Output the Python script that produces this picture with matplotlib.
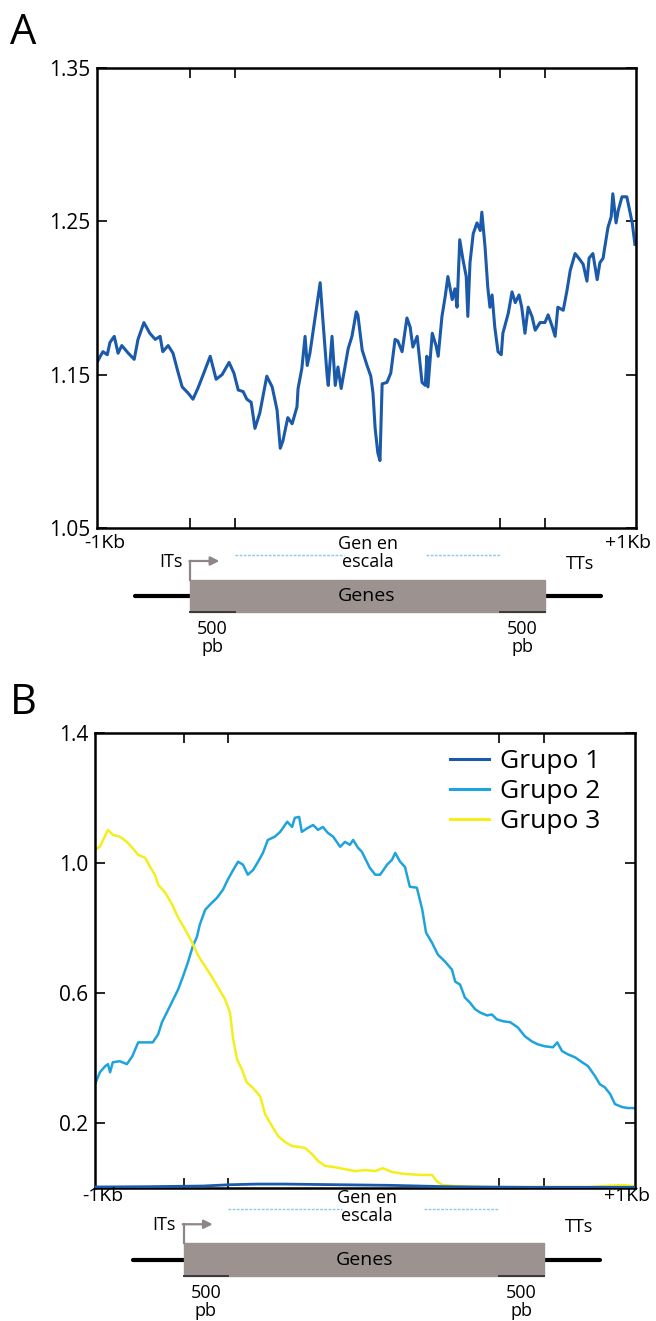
import numpy as np
import matplotlib.pyplot as plt
from matplotlib.patches import Rectangle

plt.rcParams['font.family'] = ['Open Sans', 'DejaVu Sans']

# position along the profile, 0 = -1Kb, 100 = +1Kb (gene body scaled)
pos_a = [0.0, 0.6, 1.1, 1.9, 2.4, 3.2, 3.9, 4.6, 5.8, 6.9, 7.6, 8.7, 9.8, 10.8, 11.7,
         12.2, 13.2, 14.1, 15.0, 15.8, 16.9, 17.8, 18.7, 19.7, 21.0, 22.1, 23.2, 24.5,
         25.4, 26.2, 27.1, 27.8, 28.6, 29.3, 30.2, 31.5, 32.5, 33.4, 34.0, 34.5, 35.4,
         36.2, 37.1, 37.3, 38.0, 38.6, 39.0, 39.5, 40.4, 41.4, 41.9, 42.7, 42.9, 43.6,
         44.2, 44.7, 45.3, 46.0, 46.6, 47.3, 48.1, 48.4, 49.2, 50.1, 50.8, 51.2, 51.6,
         52.1, 52.5, 52.9, 53.8, 54.5, 55.3, 55.8, 56.6, 57.5, 58.1, 58.6, 59.4, 60.3,
         60.9, 61.2, 61.4, 62.2, 62.9, 63.3, 64.0, 64.6, 65.1, 65.9, 66.4, 66.8, 67.3,
         67.9, 68.5, 68.8, 69.2, 69.8, 70.5, 71.1, 71.4, 72.0, 72.5, 72.9, 73.3, 73.8,
         74.4, 75.0, 75.3, 76.3, 77.0, 77.6, 78.3, 78.8, 79.4, 80.0, 80.7, 81.3, 82.2,
         83.1, 83.7, 84.4, 85.0, 85.5, 86.5, 87.2, 87.8, 88.7, 89.6, 90.2, 90.9, 91.3,
         92.0, 92.8, 93.3, 93.9, 94.2, 94.8, 95.4, 95.7, 96.3, 96.7, 97.4, 98.3, 98.9,
         99.3, 99.8]
val_a = [1.158, 1.162, 1.165, 1.163, 1.171, 1.175, 1.164, 1.169, 1.164, 1.160, 1.173,
         1.184, 1.177, 1.173, 1.175, 1.165, 1.169, 1.164, 1.152, 1.142, 1.138, 1.134,
         1.141, 1.150, 1.162, 1.147, 1.150, 1.158, 1.151, 1.140, 1.139, 1.134, 1.132,
         1.115, 1.125, 1.149, 1.142, 1.127, 1.102, 1.107, 1.122, 1.118, 1.129, 1.141,
         1.154, 1.175, 1.156, 1.164, 1.186, 1.210, 1.186, 1.149, 1.143, 1.175, 1.143,
         1.155, 1.141, 1.155, 1.167, 1.175, 1.191, 1.189, 1.166, 1.156, 1.149, 1.138,
         1.115, 1.099, 1.094, 1.144, 1.145, 1.151, 1.173, 1.172, 1.165, 1.187, 1.181,
         1.168, 1.175, 1.145, 1.143, 1.162, 1.142, 1.177, 1.169, 1.162, 1.188, 1.201,
         1.214, 1.199, 1.206, 1.194, 1.238, 1.225, 1.214, 1.188, 1.223, 1.242, 1.249,
         1.244, 1.256, 1.233, 1.207, 1.194, 1.202, 1.181, 1.165, 1.163, 1.177, 1.190,
         1.204, 1.197, 1.202, 1.194, 1.177, 1.194, 1.188, 1.179, 1.184, 1.184, 1.189,
         1.182, 1.175, 1.194, 1.192, 1.205, 1.218, 1.229, 1.225, 1.222, 1.211, 1.226,
         1.229, 1.212, 1.223, 1.226, 1.233, 1.246, 1.253, 1.268, 1.249, 1.257, 1.266,
         1.266, 1.256, 1.249, 1.235]

pos_g1 = [0, 10, 20, 25, 30, 35, 40, 45, 50, 55, 60, 65, 70, 80, 90, 100]
val_g1 = [0.003, 0.004, 0.006, 0.010, 0.012, 0.012, 0.011, 0.010, 0.009, 0.008,
          0.006, 0.004, 0.003, 0.002, 0.002, 0.002]

pos_g2 = [0.0, 0.9, 1.9, 2.4, 2.8, 3.3, 4.6, 5.9, 6.9, 8.0, 9.3, 10.7, 11.7, 12.4, 13.3,
          14.3, 15.4, 16.3, 17.2, 18.1, 18.9, 19.4, 20.4, 21.3, 22.6, 23.7, 24.6, 25.6,
          26.5, 27.4, 28.3, 29.3, 30.2, 31.1, 32.0, 33.3, 34.3, 35.6, 36.5, 37.0, 37.8,
          38.3, 39.4, 40.4, 41.3, 42.2, 43.1, 44.1, 45.4, 46.3, 47.2, 47.8, 48.7, 49.4,
          50.9, 51.9, 52.8, 54.1, 55.0, 55.6, 56.5, 57.4, 58.3, 59.6, 60.6, 61.3, 62.4,
          63.5, 64.8, 66.1, 66.7, 67.6, 68.5, 69.4, 70.4, 71.3, 72.6, 73.5, 74.4, 75.6,
          76.9, 78.3, 79.6, 80.9, 82.0, 83.3, 84.8, 85.6, 86.5, 87.6, 88.9, 90.2, 91.3,
          92.6, 93.5, 94.4, 95.4, 96.3, 97.6, 98.7, 99.6, 100.0]
val_g2 = [0.319, 0.356, 0.375, 0.381, 0.356, 0.387, 0.390, 0.381, 0.405, 0.448, 0.448,
          0.448, 0.473, 0.510, 0.540, 0.574, 0.611, 0.651, 0.694, 0.743, 0.774, 0.810,
          0.856, 0.872, 0.893, 0.918, 0.949, 0.979, 1.004, 0.995, 0.964, 0.979, 1.004,
          1.031, 1.071, 1.081, 1.096, 1.127, 1.111, 1.139, 1.142, 1.096, 1.108, 1.117,
          1.102, 1.111, 1.093, 1.081, 1.050, 1.065, 1.056, 1.071, 1.047, 1.035, 0.985,
          0.964, 0.964, 0.995, 1.010, 1.031, 1.004, 0.988, 0.927, 0.924, 0.857, 0.786,
          0.755, 0.718, 0.697, 0.672, 0.635, 0.626, 0.586, 0.571, 0.550, 0.540, 0.531,
          0.534, 0.519, 0.513, 0.510, 0.494, 0.467, 0.451, 0.442, 0.436, 0.433, 0.448,
          0.421, 0.411, 0.402, 0.387, 0.375, 0.344, 0.319, 0.310, 0.289, 0.258, 0.249,
          0.246, 0.246, 0.245]

pos_g3 = [0.0, 0.9, 1.5, 2.4, 3.3, 4.6, 5.9, 6.9, 8.0, 9.3, 10.2, 11.1, 11.7, 13.0, 14.3,
          15.4, 16.7, 18.0, 19.1, 20.4, 21.7, 22.8, 24.1, 25.0, 25.6, 26.3, 27.2, 28.1,
          29.3, 30.6, 31.5, 32.8, 33.9, 35.2, 36.5, 38.0, 38.9, 40.2, 41.3, 42.6, 44.4,
          46.3, 48.1, 50.0, 51.9, 53.3, 55.0, 57.4, 60.6, 62.4, 63.3, 64.3, 66.7, 72.8,
          79.1, 85.2, 91.3, 94.4, 97.6, 99.6]
val_g3 = [1.041, 1.050, 1.071, 1.102, 1.087, 1.081, 1.065, 1.047, 1.025, 1.016, 0.988,
          0.964, 0.933, 0.909, 0.872, 0.832, 0.795, 0.755, 0.715, 0.682, 0.648, 0.617,
          0.580, 0.540, 0.457, 0.396, 0.365, 0.325, 0.307, 0.282, 0.227, 0.190, 0.160,
          0.141, 0.129, 0.126, 0.123, 0.104, 0.083, 0.068, 0.064, 0.058, 0.052, 0.055,
          0.052, 0.061, 0.049, 0.043, 0.040, 0.040, 0.021, 0.009, 0.006, 0.003, 0.003,
          0.003, 0.003, 0.006, 0.009, 0.006]

# TSS, TSS+500pb, TTS-500pb, TTS
gene_ticks_a = [17.3, 25.6, 74.8, 83.1]
gene_ticks_b = [16.4, 24.6, 74.8, 83.1]

yticks_a = [1.05, 1.15, 1.25, 1.35]
yticks_b = [0.2, 0.6, 1.0, 1.4]
labels_b = ['Grupo 1', 'Grupo 2', 'Grupo 3']
colors_b = ['#1b5aaa', '#1fa3dd', '#f4ef1c']


def style_axes(ax, ticks, yticks, ylabels):
    ax.set_xlim(0, 100)
    ax.set_xticks(ticks)
    ax.set_xticklabels([])
    ax.set_yticks(yticks)
    ax.set_yticklabels(ylabels, fontsize=15)
    ax.tick_params(axis='both', direction='in', length=7, width=1.2,
                   top=True, right=True, pad=5)
    for s in ax.spines.values():
        s.set_linewidth(1.8)


def draw_gene(ax, ticks, kb_y, txt_y, box_top):
    ax.set_xlim(0, 100)
    ax.set_ylim(132, 0)
    ax.axis('off')
    tss, tss5, tts5, tts = ticks
    ax.text(1.5, kb_y, '-1Kb', ha='center', va='center', fontsize=14)
    ax.text(98.5, kb_y, '+1Kb', ha='center', va='center', fontsize=14)
    ax.text(50.3, txt_y, 'Gen en\nescala', ha='center', va='center', fontsize=13,
            linespacing=0.95)
    ax.plot([tss5, 45.8], [txt_y + 2, txt_y + 2], color='#8ecae6', lw=1.0, ls=(0, (2, 1)))
    ax.plot([61.0, tts5], [txt_y + 2, txt_y + 2], color='#8ecae6', lw=1.0, ls=(0, (2, 1)))
    ax.text(tss - 1.5, box_top - 18, 'ITs', ha='right', va='center', fontsize=13)
    ax.text(89.6, box_top - 16, 'TTs', ha='center', va='center', fontsize=13)
    mid = box_top + 16
    ax.plot([7, 93.5], [mid, mid], color='black', lw=3, solid_capstyle='round', zorder=1)
    ax.add_patch(Rectangle((tss, box_top), tts - tss, 32, color='#9c9391', zorder=2))
    ax.text(50, mid, 'Genes', ha='center', va='center', fontsize=14, zorder=3)
    # promoter arrow
    ax.plot([tss, tss], [box_top, box_top - 19], color='#8d8589', lw=1.6, zorder=3)
    ax.annotate('', xy=(tss + 5.4, box_top - 19), xytext=(tss - 0.15, box_top - 19),
                arrowprops=dict(arrowstyle='-|>', color='#8d8589', lw=1.6,
                                mutation_scale=13, shrinkA=0, shrinkB=0))
    ax.plot([tss, tss5], [box_top + 32, box_top + 32], color='#3a3a3a', lw=1.4, zorder=3)
    ax.plot([tts5, tts], [box_top + 32, box_top + 32], color='#3a3a3a', lw=1.4, zorder=3)
    for xc in [(tss + tss5) / 2, (tts5 + tts) / 2]:
        ax.text(xc, box_top + 58, '500\npb', ha='center', va='center', fontsize=13,
                linespacing=0.95)


fig = plt.figure(figsize=(6.56, 13.21), dpi=100)

# panel A
ax1 = fig.add_axes([0.1479, 0.6003, 0.8216, 0.3482])
ax1.plot(pos_a, val_a, color='#1b5aaa', lw=2.2)
ax1.set_ylim(1.05, 1.35)
style_axes(ax1, gene_ticks_a, yticks_a, ['1.05', '1.15', '1.25', '1.35'])
fig.text(0.015, 0.975, 'A', fontsize=30, va='center')
gx1 = fig.add_axes([0.1479, 0.5004, 0.8216, 0.0999])
draw_gene(gx1, gene_ticks_a, 15, 25, 52)

# panel B
ax2 = fig.add_axes([0.1448, 0.1007, 0.8232, 0.3444])
ax2.plot(pos_g1, val_g1, color=colors_b[0], lw=2.0, label=labels_b[0], zorder=3)
ax2.plot(pos_g2, val_g2, color=colors_b[1], lw=1.8, label=labels_b[1])
ax2.plot(pos_g3, val_g3, color=colors_b[2], lw=1.8, label=labels_b[2])
ax2.set_ylim(0, 1.4)
style_axes(ax2, gene_ticks_b, yticks_b, ['0.2', '0.6', '1.0', '1.4'])
leg = ax2.legend(loc='upper right', bbox_to_anchor=(0.965, 1.0), frameon=False,
                 fontsize=19, handlelength=1.5, handletextpad=0.4, labelspacing=0.2,
                 borderaxespad=0.2)
for ln in leg.get_lines():
    ln.set_linewidth(2.2)
fig.text(0.015, 0.468, 'B', fontsize=30, va='center')
gx2 = fig.add_axes([0.1448, 0.0, 0.8232, 0.1007])
draw_gene(gx2, gene_ticks_b, 8, 19, 55)

fig.savefig('out.png', dpi=100)
